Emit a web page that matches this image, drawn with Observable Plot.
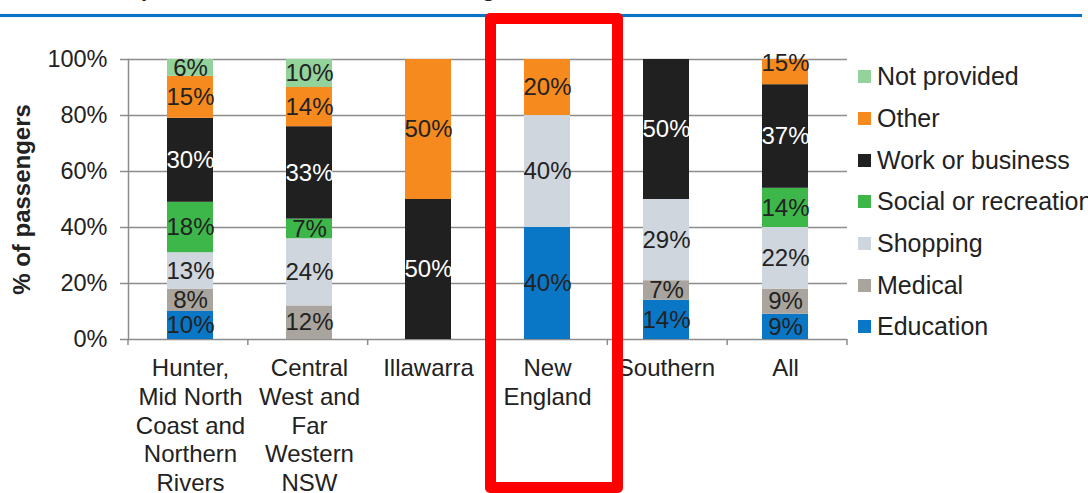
<!DOCTYPE html>
<html><head><meta charset="utf-8">
<script src="https://cdn.jsdelivr.net/npm/d3@7"></script>
<script src="https://cdn.jsdelivr.net/npm/@observablehq/plot@0.6"></script>
<style>
body{margin:0;background:#fff;font-family:"Liberation Sans",Arial,sans-serif;}
#wrap{position:relative;width:1088px;height:493px;overflow:hidden;background:#fff;}
#title{position:absolute;left:-33px;top:-22px;font-weight:bold;font-size:22px;line-height:22px;color:#222;white-space:nowrap;}
#rule{position:absolute;left:0;top:14px;width:1082px;height:3px;background:#0a74c4;box-shadow:0 0 1px #6fb0e0;}
#chart{position:absolute;left:0;top:20px;}
#legend{position:absolute;left:858px;top:56px;white-space:nowrap;}
.row{display:flex;align-items:center;height:41.7px;font-size:25px;color:#222;}
.sw{width:13px;height:13px;margin-right:6px;flex:none;}
#box{position:absolute;left:485px;top:13px;width:138px;height:480px;border:11px solid #ff0000;box-sizing:border-box;border-radius:5px;}
</style>
</head><body>
<div id="wrap">
  <div id="title">Figure A2 &nbsp;– &nbsp;Purpose of bus travel in rural and regional NSW</div>
  <div id="rule"></div>
  <div id="chart"></div>
  <div id="legend"></div>
  <div id="box"></div>
</div>
<script>
const regions = ["Hunter, Mid North Coast and Northern Rivers", "Central West and Far Western NSW", "Illawarra", "New England", "Southern", "All"];
const regionLabels = ["Hunter,\nMid North\nCoast and\nNorthern\nRivers", "Central\nWest and\nFar\nWestern\nNSW", "Illawarra", "New\nEngland", "Southern", "All"];
const purposes = ["Education", "Medical", "Shopping", "Social or recreation", "Work or business", "Other", "Not provided"];
const purposeColors = ["#0a77c6", "#a9a59e", "#cfd6dd", "#3db74a", "#202020", "#f68a1e", "#93d29b"];
const legendOrder = ["Not provided", "Other", "Work or business", "Social or recreation", "Shopping", "Medical", "Education"];
const yTicks = [0, 20, 40, 60, 80, 100];

const education   = [10, 0, 0, 40, 14, 9];
const medical     = [8, 12, 0, 0, 7, 9];
const shopping    = [13, 24, 0, 40, 29, 22];
const social      = [18, 7, 0, 0, 0, 14];
const work        = [30, 33, 50, 0, 50, 37];
const other       = [15, 14, 50, 20, 0, 15];
const notProvided = [6, 10, 0, 0, 0, 0];

const series = [education, medical, shopping, social, work, other, notProvided];
const rows = [];
regions.forEach((r, i) => {
  purposes.forEach((p, j) => {
    const v = series[j][i];
    if (v > 0) rows.push({region: r, purpose: p, value: v, label: v + "%"});
  });
});

const gray = "#8c8c8c";
const boundaryTicks = (index, scales, values, dimensions) => {
  const {width, height, marginLeft, marginRight, marginBottom} = dimensions;
  const n = regions.length;
  const step = (width - marginLeft - marginRight) / n;
  const y0 = height - marginBottom;
  const g = d3.create("svg:g").attr("stroke", gray).attr("stroke-width", 1.5);
  for (let i = 0; i <= n; i++) {
    const x = marginLeft + i * step;
    g.append("line").attr("x1", x).attr("x2", x).attr("y1", y0).attr("y2", y0 + 6);
  }
  return g.node();
};

const isWork = d => d.purpose === "Work or business";

const plot = Plot.plot({
  width: 1088, height: 473,
  marginTop: 39, marginBottom: 154, marginLeft: 128, marginRight: 241,
  style: {fontFamily: "Liberation Sans, Arial, sans-serif", fontSize: "22px", color: "#222", background: "transparent", overflow: "visible"},
  x: {domain: regions, paddingInner: 0.61, paddingOuter: 0.305, label: null},
  y: {domain: [0, 100], label: null},
  color: {domain: purposes, range: purposeColors},
  marks: [
    Plot.gridY(yTicks, {stroke: gray, strokeOpacity: 1, strokeWidth: 1.5}),
    Plot.frame({anchor: "left", stroke: gray, strokeWidth: 1.5}),
    boundaryTicks,
    Plot.barY(rows, Plot.stackY({x: "region", y: "value", fill: "purpose", order: purposes, clip: true})),
    Plot.text(rows, Plot.stackY({x: "region", y: "value", z: "purpose", order: purposes,
      text: d => isWork(d) ? "" : d.label, fill: "#222", fontSize: 24})),
    Plot.text(rows, Plot.stackY({x: "region", y: "value", z: "purpose", order: purposes,
      text: d => isWork(d) ? d.label : "", fill: "white", fontSize: 24})),
    Plot.axisY({ticks: yTicks, tickFormat: d => d + "%", tickSize: 8, tickPadding: 13, stroke: gray, strokeWidth: 1.5, fontSize: 23.5, fill: "#222"}),
    Plot.axisX({tickSize: 0, tickPadding: 16, tickFormat: d => regionLabels[regions.indexOf(d)], lineHeight: 1.2, lineAnchor: "top", fontSize: 24, fill: "#222"}),
    Plot.text(["% of passengers"], {frameAnchor: "left", textAnchor: "middle", rotate: -90, dx: -106, fontWeight: "bold", fontSize: 24, fill: "#222"})
  ]
});
document.getElementById("chart").appendChild(plot);

const legend = document.getElementById("legend");
legendOrder.forEach(p => {
  const row = document.createElement("div");
  row.className = "row";
  const sw = document.createElement("span");
  sw.className = "sw";
  sw.style.background = purposeColors[purposes.indexOf(p)];
  const t = document.createElement("span");
  t.textContent = p;
  row.appendChild(sw); row.appendChild(t);
  legend.appendChild(row);
});
</script>
</body></html>
